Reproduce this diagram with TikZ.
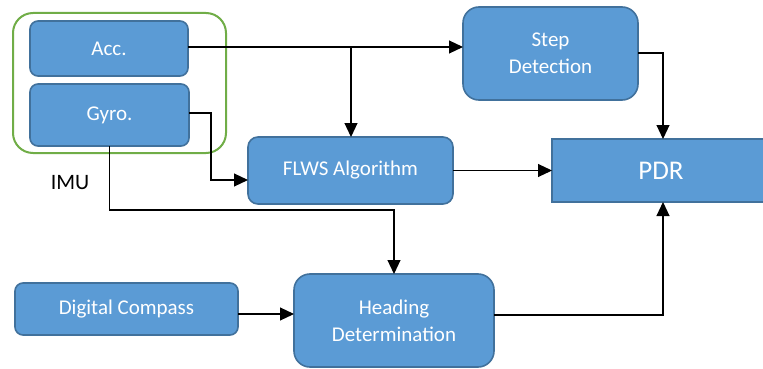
\documentclass[tikz,border=0pt]{standalone}
\usepackage{fontspec}
\setmainfont{Carlito}
\usetikzlibrary{arrows.meta}
\definecolor{boxfill}{HTML}{5B9BD5}
\definecolor{boxedge}{HTML}{41719C}
\definecolor{imugreen}{HTML}{70AD47}
\begin{document}
\begin{tikzpicture}[x=1pt,y=-1pt,
  blk/.style={draw=boxedge, fill=boxfill, line width=1.6pt, text=white, inner sep=0pt, outer sep=0pt,
    align=center, font=\fontsize{21}{27}\selectfont},
  arr/.style={line width=1.1pt, -{Triangle[length=14pt,width=13pt]}},
  ln/.style={line width=1.1pt}]
\useasboundingbox (0,0) rectangle (763,369);
\node[draw=imugreen, line width=2pt, rounded corners=20pt, minimum width=213pt, minimum height=140pt, inner sep=0pt] (imu) at (119.5,83) {};
\node[blk, rounded corners=8pt, minimum width=158pt, minimum height=55pt] (acc) at (109,48.5) {Acc.};
\node[blk, rounded corners=8pt, minimum width=159pt, minimum height=62pt] (gyro) at (109.5,115) {Gyro.};
\node[blk, rounded corners=10pt, minimum width=205pt, minimum height=67pt] (flws) at (350.5,170.5) {FLWS Algorithm};
\node[blk, rounded corners=16pt, minimum width=175pt, minimum height=93pt] (step) at (550.5,53.5) {Step\\Detection};
\node[blk, minimum width=218pt, minimum height=63pt, font=\fontsize{27}{30}\selectfont] (pdr) at (661,170.5) {PDR};
\node[blk, rounded corners=8pt, minimum width=223pt, minimum height=52pt] (comp) at (126.5,309) {Digital Compass};
\node[blk, rounded corners=16pt, minimum width=200pt, minimum height=93pt] (head) at (394,320.5) {Heading\\Determination};
\node[font=\fontsize{22}{26}\selectfont] (imulabel) at (70,183) {IMU};
\coordinate (a1) at (351,47);
\coordinate (g1) at (394,210);
\coordinate (g2) at (211,113);
\coordinate (s1) at (663,53);
\coordinate (h1) at (663,315);
\draw[arr] (acc.east |- a1) -- (a1 -| step.west);
\draw[arr] (a1) -- (a1 |- flws.north);
\draw[arr] (gyro.east |- g2) -- (g2) |- ([yshift=-9.5pt]flws.west);
\draw[arr] (gyro.south) |- (g1) -- (g1 |- head.north);
\draw[arr] (flws.east) -- (flws.east -| pdr.west);
\draw[arr] (step.east |- s1) -- (s1) -- (s1 |- pdr.north);
\draw[arr] ([yshift=-5pt]comp.east) -- ([yshift=-5pt]comp.east -| head.west);
\draw[arr] (head.east |- h1) -- (h1) -- (h1 |- pdr.south);
\end{tikzpicture}
\end{document}
